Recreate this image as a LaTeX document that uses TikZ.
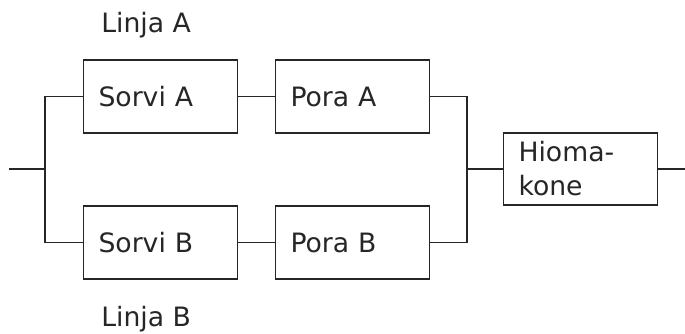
\documentclass[tikz,border=0pt]{standalone}
\usepackage{fontspec}
\setmainfont{DejaVu Sans}
\begin{document}
\begin{tikzpicture}[x=0.75pt,y=-0.75pt,
  every node/.style={text=black!85},
  unit/.style={draw=black!85,line width=1.3pt,minimum width=154*0.75pt,minimum height=73*0.75pt,
    text width=124*0.75pt,align=left,inner sep=0pt,font=\fontsize{20pt}{25.5pt}\selectfont},
  wire/.style={draw=black!85,line width=1.1pt},
  lab/.style={inner sep=0pt,anchor=base west,font=\fontsize{20pt}{24pt}\selectfont}]
\useasboundingbox (0,0) rectangle (685,334);
\node[unit] (sa) at (160.5,96.5) {Sorvi A};
\node[unit] (pa) at (352.5,96.5) {Pora A};
\node[unit] (sb) at (160.5,242.5) {Sorvi B};
\node[unit] (pb) at (352.5,242.5) {Pora B};
\node[unit,minimum height=72*0.75pt] (hk) at (580.5,169) {Hioma-\\kone};
\node[lab] (la) at (101,33) {Linja A};
\node[lab] (lb) at (101,327) {Linja B};
\coordinate (in) at (9,169);
\coordinate (j1) at (45,169);
\coordinate (j2) at (467,169);
\coordinate (out) at (685,169);
\draw[wire] (in) -- (j1);
\draw[wire] (sa.west) -| (j1) |- (sb.west);
\draw[wire] (sa) -- (pa);
\draw[wire] (sb) -- (pb);
\draw[wire] (pa.east) -| (j2) |- (pb.east);
\draw[wire] (j2) -- (hk);
\draw[wire] (hk) -- (out);
\end{tikzpicture}
\end{document}
